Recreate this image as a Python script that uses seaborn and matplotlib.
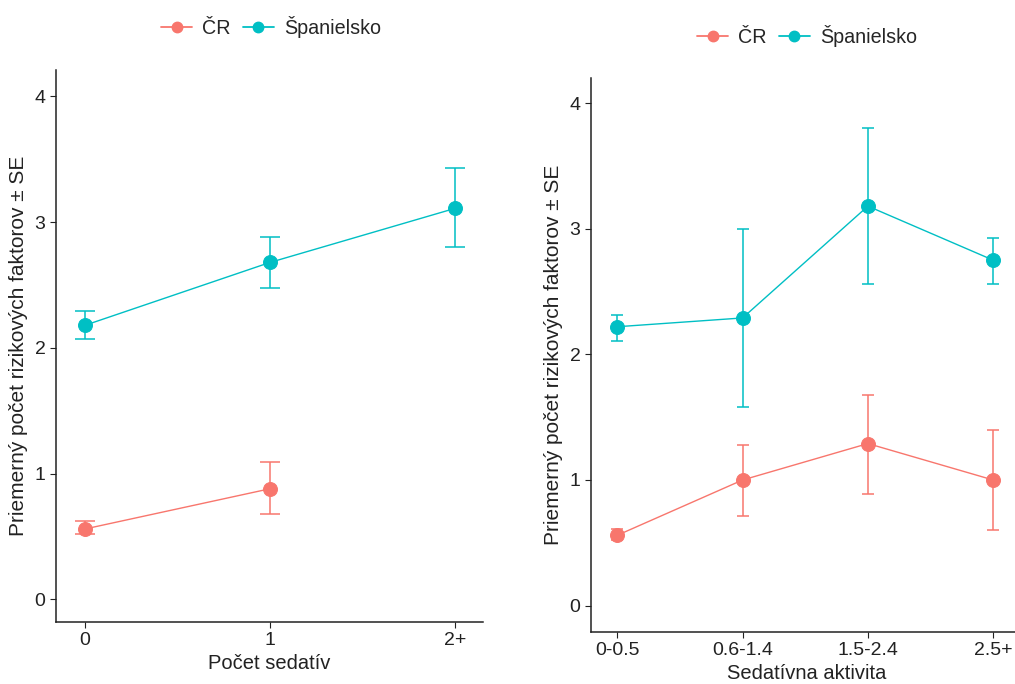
import matplotlib
matplotlib.use("Agg")
import matplotlib.pyplot as plt
import seaborn as sns
import pandas as pd
from matplotlib.lines import Line2D

# ---- data ----
countries = ["ČR", "Španielsko"]
colors = ["#F8766D", "#00BFC4"]

left_cats = ["0", "1", "2+"]
left_cr_cats = ["0", "1"]
left_cr_mean = [0.56, 0.88]
left_cr_lo = [0.52, 0.68]
left_cr_hi = [0.62, 1.09]
left_es_cats = ["0", "1", "2+"]
left_es_mean = [2.18, 2.68, 3.11]
left_es_lo = [2.07, 2.48, 2.80]
left_es_hi = [2.29, 2.88, 3.43]

right_cats = ["0-0.5", "0.6-1.4", "1.5-2.4", "2.5+"]
right_cr_mean = [0.56, 1.00, 1.29, 1.00]
right_cr_lo = [0.52, 0.71, 0.89, 0.60]
right_cr_hi = [0.61, 1.28, 1.68, 1.40]
right_es_mean = [2.22, 2.29, 3.18, 2.75]
right_es_lo = [2.11, 1.58, 2.56, 2.56]
right_es_hi = [2.31, 3.00, 3.80, 2.93]

ylabel = "Priemerný počet rizikových faktorov ± SE"
left_xlabel = "Počet sedatív"
right_xlabel = "Sedatívna aktivita"

sns.set_theme(style="ticks")
plt.rcParams["font.family"] = ["Liberation Sans", "DejaVu Sans"]
plt.rcParams["axes.edgecolor"] = "#222222"

fig = plt.figure(figsize=(10.15, 6.84), dpi=100)
axL = fig.add_axes([56/1015, (684-622)/684, (483-56)/1015, (622-70)/684])
axR = fig.add_axes([591/1015, (684-632)/684, (1022-591)/1015, (632-78)/684])


def build(series):
    rows = []
    for country, cats, mean, lo, hi in series:
        for c, m, l, h in zip(cats, mean, lo, hi):
            rows.append(dict(cat=c, country=country, mean=m, lo=l, hi=h))
    return pd.DataFrame(rows)


def draw(ax, df, cats, xlabel, ylim, xlim, legend_xy):
    sns.pointplot(data=df, x="cat", y="mean", hue="country", order=cats,
                  hue_order=countries, palette=colors, markers="o",
                  linestyles="-", errorbar=None, ax=ax,
                  markersize=10, linewidth=1.0)
    cap = 7.0 if len(cats) == 3 else 4.5
    for country, col in zip(countries, colors):
        sub = df[df["country"] == country]
        xs = [cats.index(c) for c in sub["cat"]]
        yerr = [sub["mean"] - sub["lo"], sub["hi"] - sub["mean"]]
        ax.errorbar(xs, sub["mean"], yerr=yerr, fmt="none", ecolor=col,
                    elinewidth=1.1, capsize=cap, capthick=1.1, zorder=1)
    if ax.get_legend() is not None:
        ax.get_legend().remove()
    ax.set_ylim(*ylim)
    ax.set_xlim(*xlim)
    ax.set_yticks([0, 1, 2, 3, 4])
    ax.set_xlabel(xlabel, fontsize=14.5, color="#222222", labelpad=3)
    ax.set_ylabel(ylabel, fontsize=15, color="#222222", labelpad=5)
    ax.tick_params(labelsize=14, colors="#222222", length=4, width=0.8)
    for s in ["top", "right"]:
        ax.spines[s].set_visible(False)
    for s in ["left", "bottom"]:
        ax.spines[s].set_linewidth(1.1)
    handles = [Line2D([0], [0], color=c, marker="o", markersize=7.5, linewidth=1.3)
                for c in colors]
    fig.legend(handles, countries, loc="center", bbox_to_anchor=legend_xy,
               ncol=2, frameon=False, fontsize=14.2, handlelength=1.6,
               columnspacing=0.6, handletextpad=0.5)


dfL = build([("ČR", left_cr_cats, left_cr_mean, left_cr_lo, left_cr_hi),
             ("Španielsko", left_es_cats, left_es_mean, left_es_lo, left_es_hi)])
dfR = build([("ČR", right_cats, right_cr_mean, right_cr_lo, right_cr_hi),
             ("Španielsko", right_cats, right_es_mean, right_es_lo, right_es_hi)])

draw(axL, dfL, left_cats, left_xlabel, (-0.18, 4.21), (-0.157, 2.15), (271/1015, 1 - 27/684))
draw(axR, dfR, right_cats, right_xlabel, (-0.21, 4.2), (-0.21, 3.23), (807/1015, 1 - 36/684))

fig.savefig("out.png", dpi=100)
